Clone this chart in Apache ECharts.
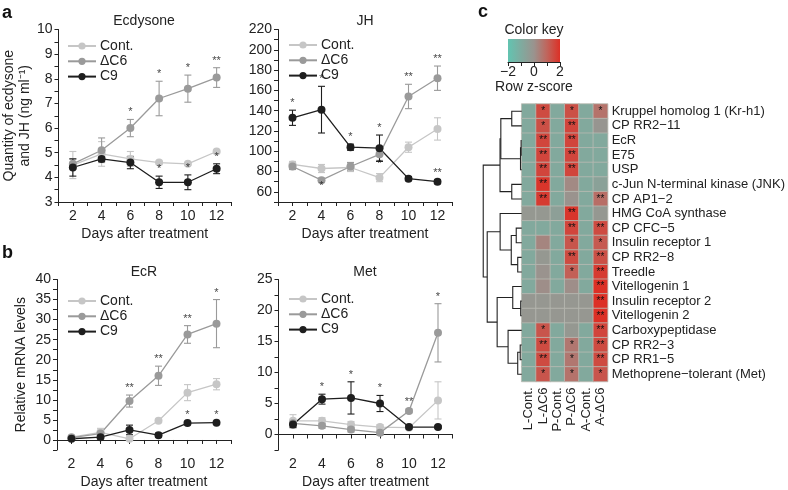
<!DOCTYPE html>
<html><head><meta charset="utf-8">
<script src="https://cdn.jsdelivr.net/npm/echarts@6/dist/echarts.min.js"></script>
<style>html,body{margin:0;padding:0;background:#fff}#c{width:788px;height:490px}</style>
</head><body><div id="c"></div>
<script>
// ---------- data ----------
const days = [2, 4, 6, 8, 10, 12];
const names = ['Cont.', 'ΔC6', 'C9'];
// Ecdysone (ng/ml)
const ecdCont = [4.5, 4.95, 4.75, 4.6, 4.55, 5.05];
const ecdContErr = [0.55, 0.5, 0.3, 0.05, 0.05, 0.05];
const ecdC6 = [4.55, 5.1, 6.0, 7.2, 7.6, 8.05];
const ecdC6Err = [0.2, 0.5, 0.35, 0.7, 0.55, 0.4];
const ecdC9 = [4.4, 4.75, 4.6, 3.8, 3.8, 4.35];
const ecdC9Err = [0.35, 0.1, 0.25, 0.25, 0.3, 0.2];
const ecdC6Sig = ['', '', '*', '*', '*', '**'];
const ecdC9Sig = ['', '', '', '*', '*', '*'];
// JH
const jhCont = [87, 83, 84, 74, 104, 122];
const jhContErr = [3, 4, 4, 4, 5, 11];
const jhC6 = [85, 71.5, 85, 97, 154, 172];
const jhC6Err = [3, 2, 4, 6, 12, 12];
const jhC9 = [133, 141, 104, 103, 73, 70];
const jhC9Err = [7.5, 23, 3, 13, 2, 2];
const jhC6Sig = ['', '_*', '', '_*', '**', '**'];
const jhC9Sig = ['*', '*', '*', '*', '', '**'];
// EcR mRNA
const ecrCont = [0.7, 1.9, 0.3, 4.8, 11.8, 13.9];
const ecrContErr = [0.3, 1.0, 0.3, 0.4, 2.0, 1.4];
const ecrC6 = [0.6, 1.6, 9.7, 16, 26.3, 29];
const ecrC6Err = [0.3, 0.8, 1.5, 2.4, 2.2, 6];
const ecrC9 = [0.3, 0.7, 2.5, 1.2, 4.2, 4.3];
const ecrC9Err = [0.3, 0.3, 1.2, 0.5, 0.4, 0.3];
const ecrC6Sig = ['', '', '**', '**', '**', '*'];
const ecrC9Sig = ['', '', '', '', '*', '*'];
// Met mRNA
const metCont = [2.2, 2.2, 1.6, 1.2, 1.1, 5.5];
const metContErr = [1.0, 0.5, 0.5, 0.4, 0.3, 3.0];
const metC6 = [1.8, 1.4, 0.8, 0.3, 3.8, 16.4];
const metC6Err = [0.4, 0.4, 0.4, 0.4, 0.3, 4.7];
const metC9 = [1.6, 5.7, 5.9, 5.0, 1.2, 1.2];
const metC9Err = [0.5, 0.8, 2.6, 1.3, 0.2, 0.2];
const metC6Sig = ['', '', '', '', '**', '*'];
const metC9Sig = ['', '*', '*', '*', '', ''];
// Heatmap
const stages = ['L-Cont.', 'L-ΔC6', 'P-Cont.', 'P-ΔC6', 'A-Cont.', 'A-ΔC6'];
const genes = ['Kruppel homolog 1 (Kr-h1)', 'CP RR2−11', 'EcR', 'E75', 'USP',
  'c-Jun N-terminal kinase (JNK)', 'CP AP1−2', 'HMG CoA synthase', 'CP CFC−5',
  'Insulin receptor 1', 'CP RR2−8', 'Treedle', 'Vitellogenin 1', 'Insulin receptor 2',
  'Vitellogenin 2', 'Carboxypeptidase', 'CP RR2−3', 'CP RR1−5', 'Methoprene−tolerant (Met)'];
const zscores = [
  [-0.9, 1.5, -0.9, 1.4, -0.9, 0.7],
  [-0.9, 1.4, -0.9, 1.6, -0.9, -0.1],
  [-0.9, 1.6, -0.9, 1.6, -0.9, -0.9],
  [-0.9, 1.6, -0.9, 1.6, -0.9, -0.9],
  [-0.9, 1.6, -0.9, 1.6, -0.9, -0.9],
  [-0.9, 1.9, -0.9, 0.2, -0.9, -0.6],
  [-0.9, 1.8, -0.9, 0.0, -0.9, 0.8],
  [-0.2, -0.2, -0.5, 1.9, -0.9, -0.2],
  [-0.9, -0.9, -0.9, 1.6, -0.9, 1.5],
  [-0.9, 0.3, -0.9, 1.3, -0.9, 1.2],
  [-0.9, -0.2, -0.9, 1.5, -0.9, 1.4],
  [-0.9, 0.0, -0.9, 1.1, -0.9, 1.8],
  [-0.9, 0.1, -0.9, 0.1, -0.9, 2.0],
  [-0.15, -0.15, -0.15, -0.15, -0.15, 2.0],
  [-0.15, -0.15, -0.15, -0.15, -0.15, 2.0],
  [-0.9, 1.3, -0.9, -0.2, -0.9, 1.6],
  [-0.9, 1.5, -0.9, 0.6, -0.9, 1.5],
  [-0.9, 1.5, -0.9, 0.6, -0.9, 1.5],
  [-0.9, 1.3, -0.9, 0.7, -0.9, 1.3]
];
const heatSig = [
  ['', '*', '', '*', '', '*'],
  ['', '*', '', '**', '', ''],
  ['', '**', '', '**', '', ''],
  ['', '**', '', '**', '', ''],
  ['', '**', '', '**', '', ''],
  ['', '**', '', '', '', ''],
  ['', '**', '', '', '', '**'],
  ['', '', '', '**', '', ''],
  ['', '', '', '**', '', '**'],
  ['', '', '', '*', '', '*'],
  ['', '', '', '**', '', '**'],
  ['', '', '', '*', '', '**'],
  ['', '', '', '', '', '**'],
  ['', '', '', '', '', '**'],
  ['', '', '', '', '', '**'],
  ['', '*', '', '', '', '**'],
  ['', '**', '', '*', '', '**'],
  ['', '**', '', '*', '', '**'],
  ['', '*', '', '*', '', '*']
];
// Row dendrogram: [childA, childB, height]; negative = leaf -(row+1), otherwise merge index
const dendroMerges = [
  [-3, -4, 0.6],    // 0  EcR+E75
  [0, -5, 1.2],     // 1  +USP
  [-1, -2, 10],     // 2  Kr-h1+RR2-11
  [2, 1, 21],       // 3
  [-6, -7, 10],     // 4  JNK+AP1-2
  [3, 4, 21.8],     // 5  top cluster
  [-9, -10, 5.5],   // 6  CFC-5+IR1
  [-11, -12, 4],    // 7  RR2-8+Treedle
  [6, 7, 10.5],     // 8
  [-8, 8, 21.7],    // 9  middle cluster
  [-14, -15, 1],    // 10 IR2+Vg2
  [-13, 10, 9],     // 11 +Vg1
  [-17, -18, 1.5],  // 12 RR2-3+RR1-5
  [12, -19, 4],     // 13 +Met
  [-16, 13, 13.7],  // 14 +Carboxypeptidase
  [11, 14, 24.7],   // 15 bottom cluster
  [9, 15, 34.7],    // 16
  [5, 16, 38.7]     // 17 root
];

// ---------- helpers ----------
const FONT = '"Liberation Sans", Arial, Helvetica, sans-serif';
const colors = ['#c6c6c6', '#9a9a9a', '#1e1e1e'];
const heatColors = ['#62c4b1', '#7fab9f', '#9a938e', '#c0655c', '#dc3026'];
const axisCol = '#222';

function errSeries(gi, vals, errs, color) {
  return {
    type: 'custom', xAxisIndex: gi, yAxisIndex: gi, z: 2, silent: true,
    data: days.map((d, i) => [d, vals[i] - errs[i], vals[i] + errs[i]]),
    encode: { x: 0, y: [1, 2] },
    renderItem: (params, api) => {
      const x = api.value(0);
      const lo = api.coord([x, api.value(1)]);
      const hi = api.coord([x, api.value(2)]);
      const w = 3.5, st = { stroke: color, lineWidth: 1.1 };
      return { type: 'group', children: [
        { type: 'line', shape: { x1: lo[0], y1: lo[1], x2: hi[0], y2: hi[1] }, style: st },
        { type: 'line', shape: { x1: lo[0] - w, y1: lo[1], x2: lo[0] + w, y2: lo[1] }, style: st },
        { type: 'line', shape: { x1: hi[0] - w, y1: hi[1], x2: hi[0] + w, y2: hi[1] }, style: st }
      ] };
    }
  };
}
function lineSeries(gi, name, vals, color) {
  return {
    type: 'line', name, xAxisIndex: gi, yAxisIndex: gi, z: 3,
    data: days.map((d, i) => [d, vals[i]]),
    symbol: 'circle', symbolSize: 8, showSymbol: true,
    lineStyle: { color, width: 1.3 }, itemStyle: { color },
    emphasis: { disabled: true }, animation: false
  };
}
function starSeries(gi, vals, errs, sigs) {
  const data = [];
  sigs.forEach((s, i) => {
    if (!s) return;
    const below = s[0] === '_';
    const txt = below ? s.slice(1) : s;
    data.push({ value: [days[i], below ? vals[i] - errs[i] : vals[i] + errs[i]],
      label: { show: true, formatter: txt, position: below ? 'bottom' : 'top', distance: below ? -2 : 1 } });
  });
  return { type: 'scatter', xAxisIndex: gi, yAxisIndex: gi, z: 5, silent: true, symbolSize: 1,
    itemStyle: { color: 'rgba(0,0,0,0)' }, label: { color: '#111', fontSize: 11, fontFamily: FONT }, data };
}
function panelSeries(gi, d) {
  return [
    errSeries(gi, d[0], d[1], colors[0]), errSeries(gi, d[2], d[3], colors[1]), errSeries(gi, d[4], d[5], colors[2]),
    lineSeries(gi, names[0], d[0], colors[0]), lineSeries(gi, names[1], d[2], colors[1]), lineSeries(gi, names[2], d[4], colors[2]),
    starSeries(gi, d[2], d[3], d[6]), starSeries(gi, d[4], d[5], d[7])
  ];
}
function xAx(gi) {
  return {
    type: 'value', gridIndex: gi, min: 1, max: 13, interval: 1,
    name: 'Days after treatment', nameLocation: 'middle', nameGap: 25,
    nameTextStyle: { fontSize: 14, color: axisCol, fontFamily: FONT },
    axisLine: { lineStyle: { color: axisCol, width: 1 } },
    axisTick: { length: 4, lineStyle: { color: axisCol } },
    axisLabel: { fontSize: 14, color: axisCol, fontFamily: FONT, margin: 7,
      formatter: v => (v % 2 === 0 ? String(v) : '') },
    splitLine: { show: false }
  };
}
function yAx(gi, min, max, interval, labelStep, name, gap) {
  return {
    type: 'value', gridIndex: gi, min, max, interval,
    name: name || '', nameLocation: 'middle', nameGap: gap || 27, nameRotate: 90,
    nameTextStyle: { fontSize: 14, color: axisCol, fontFamily: FONT, lineHeight: 16 },
    axisLine: { show: true, lineStyle: { color: axisCol, width: 1 } },
    axisTick: { show: true, length: 4, lineStyle: { color: axisCol } },
    axisLabel: { fontSize: 14, color: axisCol, fontFamily: FONT, margin: 6,
      formatter: v => (Math.abs(v / labelStep - Math.round(v / labelStep)) < 1e-6 ? String(v) : '') },
    splitLine: { show: false }
  };
}
function legendAt(left, top) {
  return { orient: 'vertical', left, top, itemWidth: 28, itemHeight: 9, itemGap: 1.3, selectedMode: false,
    data: names, textStyle: { fontSize: 14, color: axisCol, fontFamily: FONT, padding: [0, 0, 0, -1] } };
}

// dendrogram layout from merges
const mergeY = [];
const nodeY = c => (c < 0 ? -c - 1 : mergeY[c]);
const nodeH = c => (c < 0 ? 0 : dendroMerges[c][2]);
const dendroData = dendroMerges.map((m, i) => {
  const ya = nodeY(m[0]), yb = nodeY(m[1]);
  mergeY[i] = (ya + yb) / 2;
  return [nodeH(m[0]), ya, nodeH(m[1]), yb, m[2]];
});

const heatData = [];
zscores.forEach((row, r) => row.forEach((v, c) => heatData.push([c, r, v])));

const series = [].concat(
  panelSeries(0, [ecdCont, ecdContErr, ecdC6, ecdC6Err, ecdC9, ecdC9Err, ecdC6Sig, ecdC9Sig]),
  panelSeries(1, [jhCont, jhContErr, jhC6, jhC6Err, jhC9, jhC9Err, jhC6Sig, jhC9Sig]),
  panelSeries(2, [ecrCont, ecrContErr, ecrC6, ecrC6Err, ecrC9, ecrC9Err, ecrC6Sig, ecrC9Sig]),
  panelSeries(3, [metCont, metContErr, metC6, metC6Err, metC9, metC9Err, metC6Sig, metC9Sig])
);
const heatIndex = series.length;
series.push({
  type: 'heatmap', xAxisIndex: 4, yAxisIndex: 4, data: heatData, silent: true,
  itemStyle: { borderColor: '#b9bab3', borderWidth: 0.8 },
  label: { show: true, color: '#111', fontSize: 10, fontFamily: FONT,
    formatter: p => heatSig[p.value[1]][p.value[0]] }
});
series.push({ type: 'scatter', xAxisIndex: 5, yAxisIndex: 5, data: [] });
series.push({
  type: 'custom', xAxisIndex: 6, yAxisIndex: 6, silent: true, data: dendroData,
  encode: { x: [0, 2, 4], y: [1, 3] },
  renderItem: (params, api) => {
    const h = api.value(4);
    const a0 = api.coord([api.value(0), api.value(1)]);
    const a1 = api.coord([h, api.value(1)]);
    const b1 = api.coord([h, api.value(3)]);
    const b0 = api.coord([api.value(2), api.value(3)]);
    return { type: 'polyline', shape: { points: [a0, a1, b1, b0] }, style: { stroke: '#222', lineWidth: 1.1, fill: null } };
  }
});

const option = {
  animation: false,
  textStyle: { fontFamily: FONT },
  grid: [
    { left: 57, top: 29.5, width: 174, height: 172.5 },
    { left: 278, top: 29.5, width: 174, height: 172.5 },
    { left: 57, top: 279.5, width: 174, height: 171.5 },
    { left: 278.5, top: 279.5, width: 174, height: 172 },
    { left: 521.7, top: 104, width: 92, height: 277.5 },
    { left: 508, top: 39, width: 52, height: 23, show: true, borderWidth: 0,
      backgroundColor: { type: 'linear', x: 0, y: 0, x2: 1, y2: 0,
        colorStops: heatColors.map((c, i) => ({ offset: i / (heatColors.length - 1), color: c })) } },
    { left: 472, top: 104, width: 49.7, height: 277.5 }
  ],
  xAxis: [
    xAx(0), xAx(1), xAx(2), xAx(3),
    { type: 'category', gridIndex: 4, data: stages, position: 'bottom',
      axisLine: { show: false }, axisTick: { show: false },
      axisLabel: { interval: 0, rotate: 90, fontSize: 13, color: axisCol, fontFamily: FONT, margin: 6 } },
    { type: 'value', gridIndex: 5, min: -2, max: 2, interval: 1,
      axisLine: { show: true, lineStyle: { color: axisCol } },
      axisTick: { length: 4, lineStyle: { color: axisCol } },
      axisLabel: { fontSize: 14, color: axisCol, fontFamily: FONT, margin: 3,
        formatter: v => (v % 2 === 0 ? String(v).replace('-', '−') : '') },
      splitLine: { show: false } },
    { type: 'value', gridIndex: 6, min: 0, max: 50, inverse: true, show: false }
  ],
  yAxis: [
    yAx(0, 3, 10, 0.5, 1, 'Quantity of ecdysone\nand JH (ng ml⁻¹)', 22),
    yAx(1, 50, 220, 10, 20),
    yAx(2, -2.5, 40, 2.5, 5, 'Relative mRNA levels', 28),
    yAx(3, -2.5, 25, 2.5, 5),
    { type: 'category', gridIndex: 4, data: genes, inverse: true, position: 'right',
      axisLine: { show: false }, axisTick: { show: false },
      axisLabel: { interval: 0, fontSize: 13, color: axisCol, fontFamily: FONT, margin: 4 } },
    { type: 'value', gridIndex: 5, show: false, min: 0, max: 1 },
    { type: 'value', gridIndex: 6, min: -0.5, max: 18.5, inverse: true, show: false }
  ],
  legend: [legendAt(62, 34), legendAt(283, 33), legendAt(62, 289), legendAt(283, 287)],
  visualMap: { show: false, seriesIndex: heatIndex, dimension: 2, min: -2, max: 2,
    inRange: { color: heatColors } },
  graphic: [
    { type: 'text', left: 2, top: 4, style: { text: 'a', font: 'bold 18px ' + FONT, fill: '#111' } },
    { type: 'text', left: 2, top: 244, style: { text: 'b', font: 'bold 18px ' + FONT, fill: '#111' } },
    { type: 'text', left: 478, top: 3, style: { text: 'c', font: 'bold 18px ' + FONT, fill: '#111' } },
    { type: 'text', x: 144, y: 14, style: { text: 'Ecdysone', font: '14px ' + FONT, fill: '#222', textAlign: 'center' } },
    { type: 'text', x: 365, y: 14, style: { text: 'JH', font: '14px ' + FONT, fill: '#222', textAlign: 'center' } },
    { type: 'text', x: 144, y: 265, style: { text: 'EcR', font: '14px ' + FONT, fill: '#222', textAlign: 'center' } },
    { type: 'text', x: 365, y: 265, style: { text: 'Met', font: '14px ' + FONT, fill: '#222', textAlign: 'center' } },
    { type: 'text', x: 534, y: 23, style: { text: 'Color key', font: '14px ' + FONT, fill: '#222', textAlign: 'center' } },
    { type: 'text', x: 534, y: 80, style: { text: 'Row z-score', font: '14px ' + FONT, fill: '#222', textAlign: 'center' } }
  ],
  series
};
const chart = echarts.init(document.getElementById('c'), null, { renderer: 'canvas' });
chart.setOption(option);
</script></body></html>
